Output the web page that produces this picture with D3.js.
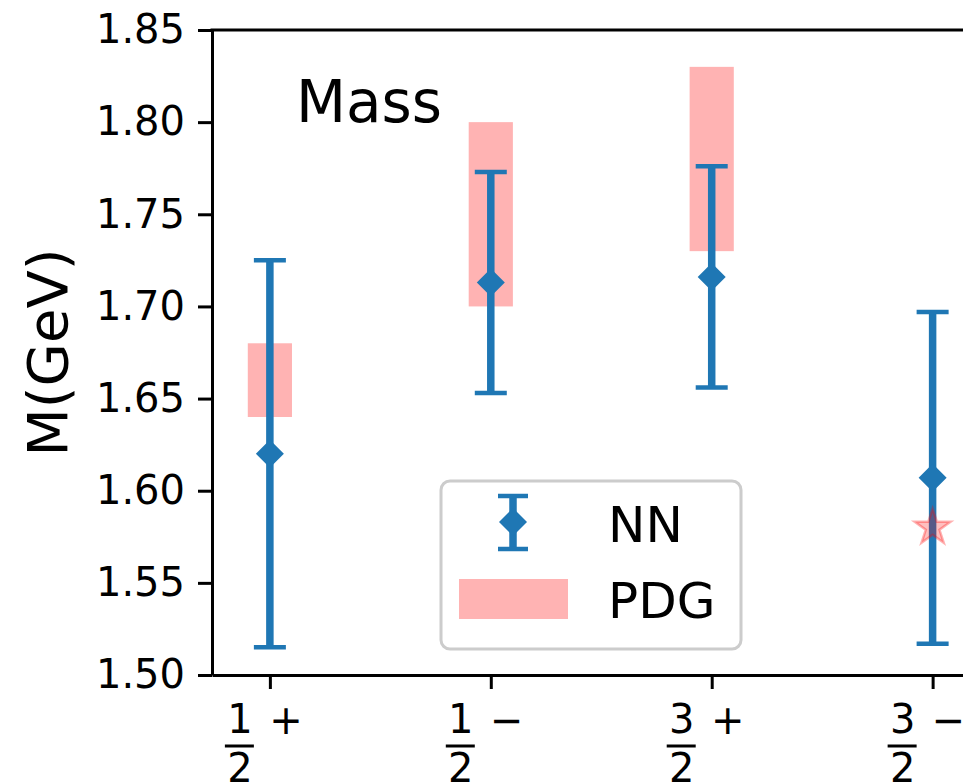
<!DOCTYPE html>
<html>
<head>
<meta charset="utf-8">
<script src="https://cdn.jsdelivr.net/npm/d3@7"></script>
<style>
  body { margin: 0; background: #fff; }
  svg { display: block; font-family: "DejaVu Sans", sans-serif; }
</style>
</head>
<body>
<div id="container-1"></div>
<script>
// Values
var states = ["1/2+", "1/2-", "3/2+", "3/2-"];
var numerators = ["1", "1", "3", "3"];
var denominators = ["2", "2", "2", "2"];
var parities = ["+", "\u2212", "+", "\u2212"];
var nnMass = [1.620, 1.713, 1.716, 1.607];
var nnErr = [0.105, 0.060, 0.060, 0.090];
var pdgLow = [1.64, 1.70, 1.73, null];
var pdgHigh = [1.68, 1.80, 1.83, null];
var pdgStar = [null, null, null, 1.58];
var yTicks = [1.50, 1.55, 1.60, 1.65, 1.70, 1.75, 1.80, 1.85];

// note: "top" is a read-only global in browsers, so the plot edges get their own names
var W = 963, H = 783,
    plotLeft = 212, plotTop = 30, plotBottom = 675,
    plotRight = 990.5, // the right part of the axes falls outside the picture
    nnColor = "#1f77b4",
    pdgColor = "#ffb3b3",
    axisWidth = 3;

var xScale = d3.scaleLinear()
    .domain([-0.262, 3.262])
    .range([plotLeft, plotRight]);

var yScale = d3.scaleLinear()
    .domain([1.50, 1.85])
    .range([plotBottom, plotTop]);

var idx = states.map(function (s, i) { return i; });

var svg = d3.select("#container-1")
    .append("svg")
    .attr("width", W)
    .attr("height", H);

// PDG bands
svg.selectAll("rect.pdg")
    .data(idx.filter(function (i) { return pdgLow[i] !== null; }))
    .enter()
    .append("rect")
    .attr("class", "pdg")
    .attr("x", function (i) { return xScale(i - 0.1); })
    .attr("width", function (i) { return xScale(i + 0.1) - xScale(i - 0.1); })
    .attr("y", function (i) { return yScale(pdgHigh[i]); })
    .attr("height", function (i) { return yScale(pdgLow[i]) - yScale(pdgHigh[i]); })
    .attr("fill", pdgColor);

// NN error bars
var bars = svg.selectAll("g.nn")
    .data(idx)
    .enter()
    .append("g")
    .attr("class", "nn");

bars.append("line")
    .attr("x1", function (i) { return xScale(i); })
    .attr("x2", function (i) { return xScale(i); })
    .attr("y1", function (i) { return yScale(nnMass[i] - nnErr[i]); })
    .attr("y2", function (i) { return yScale(nnMass[i] + nnErr[i]); })
    .attr("stroke", nnColor)
    .attr("stroke-width", 7.5);

[-1, 1].forEach(function (sign) {
    bars.append("line")
        .attr("x1", function (i) { return xScale(i) - 16; })
        .attr("x2", function (i) { return xScale(i) + 16; })
        .attr("y1", function (i) { return yScale(nnMass[i] + sign * nnErr[i]); })
        .attr("y2", function (i) { return yScale(nnMass[i] + sign * nnErr[i]); })
        .attr("stroke", nnColor)
        .attr("stroke-width", 4.5);
});

function diamond(cx, cy, r) {
    return "M" + cx + "," + (cy - r) + "L" + (cx + r) + "," + cy +
        "L" + cx + "," + (cy + r) + "L" + (cx - r) + "," + cy + "Z";
}

bars.append("path")
    .attr("d", function (i) { return diamond(xScale(i), yScale(nnMass[i]), 14); })
    .attr("fill", nnColor);

// PDG star (only one state has a single value)
svg.selectAll("path.star")
    .data(idx.filter(function (i) { return pdgStar[i] !== null; }))
    .enter()
    .append("path")
    .attr("class", "star")
    .attr("transform", function (i) { return "translate(" + xScale(i) + "," + yScale(pdgStar[i]) + ")"; })
    .attr("d", d3.symbol().type(d3.symbolStar).size(400))
    .attr("fill", "red")
    .attr("fill-opacity", 0.25)
    .attr("stroke", "red")
    .attr("stroke-opacity", 0.3)
    .attr("stroke-width", 2.5);

// Axes
var yAxis = svg.append("g")
    .attr("transform", "translate(" + plotLeft + ",0)")
    .call(d3.axisLeft(yScale)
        .tickValues(yTicks)
        .tickFormat(d3.format(".2f"))
        .tickSize(14)
        .tickSizeOuter(0)
        .tickPadding(13));

var xAxis = svg.append("g")
    .attr("transform", "translate(0," + plotBottom + ")")
    .call(d3.axisBottom(xScale)
        .tickValues([0, 1, 2, 3])
        .tickFormat("")
        .tickSize(14)
        .tickSizeOuter(0));

[yAxis, xAxis].forEach(function (ax) {
    ax.select(".domain").attr("stroke-width", axisWidth).attr("stroke", "#000");
    ax.selectAll(".tick line").attr("stroke-width", axisWidth).attr("stroke", "#000");
});
yAxis.selectAll(".tick text")
    .attr("font-size", 40)
    .attr("font-family", "DejaVu Sans")
    .attr("fill", "#000");

// top and right spines
svg.append("line")
    .attr("x1", plotLeft - 1.5).attr("x2", plotRight)
    .attr("y1", plotTop).attr("y2", plotTop)
    .attr("stroke", "#000").attr("stroke-width", axisWidth);
svg.append("line")
    .attr("x1", plotRight).attr("x2", plotRight)
    .attr("y1", plotTop).attr("y2", plotBottom)
    .attr("stroke", "#000").attr("stroke-width", axisWidth);

// Fraction tick labels: numerator / bar / denominator, plus parity sign
var xLabels = svg.selectAll("g.xlab")
    .data(idx)
    .enter()
    .append("g")
    .attr("class", "xlab")
    .attr("transform", function (i) { return "translate(" + xScale(i) + ",0)"; })
    .attr("font-size", 40)
    .attr("fill", "#000");

xLabels.append("text")
    .attr("x", -30).attr("y", 733)
    .attr("text-anchor", "middle")
    .text(function (i) { return numerators[i]; });

xLabels.append("line")
    .attr("x1", -45).attr("x2", -16)
    .attr("y1", 746).attr("y2", 746)
    .attr("stroke", "#000").attr("stroke-width", 3);

xLabels.append("text")
    .attr("x", -30).attr("y", 782)
    .attr("text-anchor", "middle")
    .text(function (i) { return denominators[i]; });

xLabels.append("text")
    .attr("x", 16).attr("y", 734)
    .attr("text-anchor", "middle")
    .text(function (i) { return parities[i]; });

// Y label
svg.append("text")
    .attr("transform", "translate(67," + ((plotTop + plotBottom) / 2) + ") rotate(-90)")
    .attr("text-anchor", "middle")
    .attr("font-size", 56)
    .text("M(GeV)");

// Panel title
svg.append("text")
    .attr("x", 296)
    .attr("y", 122)
    .attr("font-size", 58)
    .text("Mass");

// Legend
var legend = svg.append("g").attr("class", "legend");

legend.append("rect")
    .attr("x", 441).attr("y", 481)
    .attr("width", 300).attr("height", 168)
    .attr("rx", 9)
    .attr("fill", "#fff").attr("fill-opacity", 0.8)
    .attr("stroke", "#cccccc").attr("stroke-width", 3);

var hx = 513;
legend.append("line")
    .attr("x1", hx).attr("x2", hx).attr("y1", 496).attr("y2", 549)
    .attr("stroke", nnColor).attr("stroke-width", 7.5);
[496, 549].forEach(function (yy) {
    legend.append("line")
        .attr("x1", hx - 15).attr("x2", hx + 15).attr("y1", yy).attr("y2", yy)
        .attr("stroke", nnColor).attr("stroke-width", 4.5);
});
legend.append("path")
    .attr("d", diamond(hx, 522, 14))
    .attr("fill", nnColor);

legend.append("rect")
    .attr("x", 459).attr("y", 579)
    .attr("width", 109).attr("height", 40)
    .attr("fill", pdgColor);

legend.append("text")
    .attr("x", 608).attr("y", 542)
    .attr("font-size", 50)
    .text("NN");

legend.append("text")
    .attr("x", 608).attr("y", 618)
    .attr("font-size", 50)
    .text("PDG");
</script>
</body>
</html>
